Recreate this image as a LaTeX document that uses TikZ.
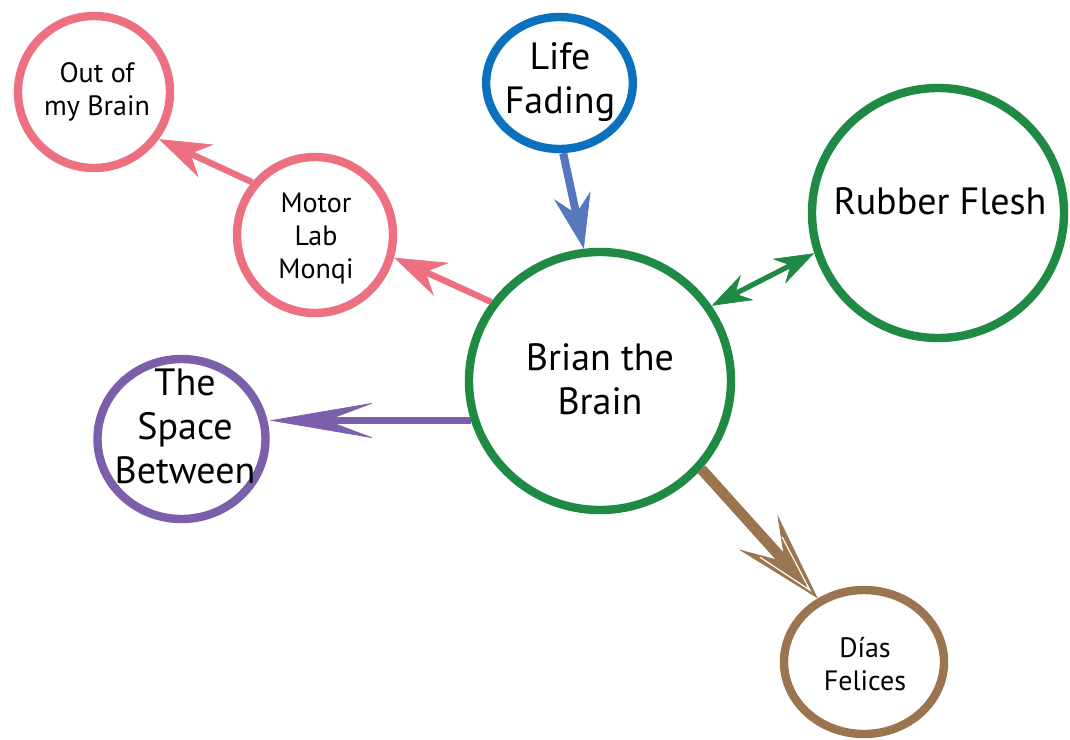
\documentclass[tikz,border=0pt]{standalone}
\usepackage{fontspec}
\setmainfont{PT Sans}
\usetikzlibrary{arrows.meta,shapes.geometric}
\definecolor{cpink}{HTML}{EC7080}
\definecolor{cblue}{HTML}{0A72BC}
\definecolor{cbluearrow}{HTML}{5676BE}
\definecolor{cgreen}{HTML}{1E8A44}
\definecolor{cpurple}{HTML}{7C5FAA}
\definecolor{cbrown}{HTML}{9A7550}
\begin{document}
\begin{tikzpicture}[x=0.75pt,y=-0.75pt,
  ring/.style={draw, ellipse, line width=6.3pt, fill=white, inner sep=0pt},
  bigtext/.style={font=\fontsize{28.5}{33}\selectfont, align=center, text=black, inner sep=0pt},
  smalltext/.style={font=\fontsize{21}{24.75}\selectfont, align=center, text=black, inner sep=0pt},
  pinkarrow/.style={draw=cpink, line width=4.8pt,
    -{Stealth[length=39pt,width=27pt,inset=13pt,line width=0.5pt,fill=cpink]}},
  bluearrow/.style={draw=cbluearrow, line width=6pt,
    -{Stealth[length=41pt,width=28pt,inset=14pt,line width=0.5pt,fill=cbluearrow]}},
  greenarrow/.style={draw=cgreen, line width=3.9pt,
    {Stealth[length=30pt,width=21pt,inset=10pt,line width=0.5pt,fill=cgreen]}-{Stealth[length=30pt,width=21pt,inset=10pt,line width=0.5pt,fill=cgreen]}},
  purplearrow/.style={draw=cpurple, line width=4.8pt,
    -{Stealth[length=79pt,width=27pt,inset=36pt,line width=0.5pt,fill=cpurple]}},
  brownarrow/.style={draw=cbrown, line width=8pt,
    -{Stealth[length=67pt,width=39pt,inset=30pt,line width=0.5pt,fill=cbrown]}},
  whiteline/.style={draw=white, line width=0.9pt}
]
\useasboundingbox (0,0) rectangle (1070,739);

% circles
\node[ring, draw=cpink, minimum width=114pt, minimum height=114pt] (out) at (94,92) {};
\node[ring, draw=cpink, minimum width=117pt, minimum height=117pt] (motor) at (315,235) {};
\node[ring, draw=cblue, minimum width=110pt, minimum height=99pt] (life) at (559.5,83) {};
\node[ring, draw=cgreen, minimum width=189pt, minimum height=187.5pt] (rubber) at (938,213) {};
\node[ring, draw=cgreen, minimum width=196.5pt, minimum height=193.5pt] (brian) at (600,381) {};
\node[ring, draw=cpurple, minimum width=126pt, minimum height=120pt] (space) at (181.5,439) {};
\node[ring, draw=cbrown, minimum width=120pt, minimum height=108pt] (dias) at (864,662) {};

% texts
\node[smalltext] (outT) at (97,92) {Out of\\my Brain};
\node[smalltext] (motorT) at (316,238) {Motor\\Lab\\Monqi};
\node[bigtext] (lifeT) at (560,82) {Life\\Fading};
\node[bigtext] (rubberT) at (940,201) {Rubber Flesh};
\node[bigtext] (brianT) at (600,379) {Brian the\\Brain};
\node[bigtext] (spaceT) at (185,426) {The\\Space\\Between};
\node[smalltext] (diasT) at (865,664) {Días\\Felices};

% connectors
\draw[pinkarrow] (motor.140) -- (out.-36);
\draw[pinkarrow] (brian.144) -- (motor.-16);
\draw[bluearrow] (life.-87) -- (brian.97);
\draw[greenarrow] (brian.34) -- (rubber.198.6);
\draw[purplearrow] (brian.197) -- (brian.197 -| space.east);
\draw[brownarrow] (brian.-41.3) -- (dias.126);
% white inner lines of the brown arrowhead
\draw[whiteline] (782.1,537) -- (809.9,590.1) -- (759.9,557.2);
\end{tikzpicture}
\end{document}
